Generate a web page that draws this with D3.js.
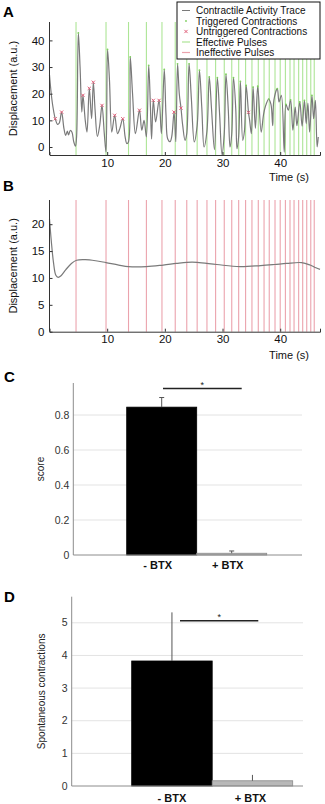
<!DOCTYPE html>
<html>
<head>
<meta charset="utf-8">
<script src="https://cdn.jsdelivr.net/npm/d3@7"></script>
<style>
  body { margin: 0; background: #fff; }
  svg { display: block; font-family: "Liberation Sans", Arial, sans-serif; }
</style>
</head>
<body>
<svg id="chart" width="325" height="804"></svg>
<script>
/**
 * Data.
 */
// Stimulation pulse times (s), shared by panels A and B
const pulseTimes = [4.6, 9.8, 13.7, 16.8, 19.5, 21.8, 23.8, 25.6, 27.3, 28.8, 30.3, 31.6, 32.8,
    34.0, 35.1, 36.2, 37.2, 38.1, 39.1, 40.0, 40.9, 41.7, 42.4, 43.2, 43.9, 44.6, 45.3, 45.9];

// Panel A contractile trace [time, displacement]
const traceA = [[0, 27], [0.3, 20], [0.6, 15], [1.0, 10.6], [1.4, 8.5], [1.7, 9], [2.1, 13.1], [2.5, 7],
    [2.8, 4.4], [3.1, 6], [3.3, 4.5], [3.6, 6.2], [3.9, 5.5], [4.2, 2], [4.5, 0.3], [4.7, 4], [5.0, 42.8],
    [5.3, 30], [5.6, 13.1], [5.8, 19.4], [6.2, 10], [6.5, 5.6], [6.9, 22], [7.3, 10.6], [7.6, 24.3],
    [7.9, 14], [8.3, 4], [8.7, 8], [9.1, 15.6], [9.5, 5], [9.8, -1.9], [10.06, 36.6], [10.4, 25],
    [10.8, 5.6], [11.3, 11.9], [11.8, 5], [12.2, 7], [12.7, 10.6], [13.1, 4], [13.4, 1.3], [13.7, 2],
    [14.0, 33.8], [14.4, 20], [14.9, 5], [15.6, 13.8], [16.0, 6.3], [16.4, 10], [16.8, 3.8], [17.2, 30.6],
    [17.5, 15], [17.7, 3], [18.0, 17.5], [18.4, 9.4], [19.0, 17.5], [19.4, 5], [19.9, 29.1], [20.2, 12],
    [20.5, 3], [20.9, 2], [21.2, 4], [21.6, 13.1], [21.9, 2], [22.2, 31.2], [22.5, 20], [22.8, 14.6],
    [23.1, 8], [23.5, 2.5], [23.8, 5], [24.2, 31.2], [24.6, 18], [25.1, 1.9], [25.6, 8], [26.0, 28.8],
    [26.4, 15], [26.8, 0], [27.3, 6], [27.7, 26.3], [28.1, 14], [28.6, -1], [29.1, 26], [29.5, 12],
    [29.9, -2.8], [30.3, 5], [30.6, 27.3], [31.0, 14], [31.3, 0], [31.6, 5], [31.9, 26], [32.3, 14],
    [32.5, -0.6], [32.8, 4], [33.1, 24.6], [33.5, 2.5], [33.8, 6], [34.1, 23.1], [34.5, 13], [34.7, 10],
    [35.0, 5], [35.3, 22.5], [35.7, 7], [36.1, 22.8], [36.7, 5.6], [37.1, 12], [37.4, 15], [38.0, 18],
    [38.4, 16], [38.7, 8], [38.9, 17.5], [39.5, 21.9], [39.8, 16.9], [40.2, 19.4], [40.7, -1.9], [41.0, 16],
    [41.4, 13.8], [41.8, 17.7], [42.2, 6.3], [42.6, 15], [42.9, 8], [43.4, 16.9], [43.8, 7.8], [44.2, 17.5],
    [44.5, 8.8], [44.8, 16.5], [45.1, 5.6], [45.5, 19.4], [45.8, 10.6], [46.1, 17.5], [46.4, 0], [46.6, 3.75]];

// Peaks following an effective pulse
const triggeredA = [[5.0, 42.8], [10.06, 36.6], [14.0, 33.8], [17.2, 30.6], [19.9, 29.1], [22.2, 31.2],
    [24.2, 31.2], [26.0, 28.8], [27.7, 26.3], [29.1, 26], [30.6, 27.3], [31.9, 26], [33.1, 24.6],
    [34.1, 23.1], [35.3, 22.5], [36.1, 22.8], [38.0, 18], [39.5, 21.9], [41.0, 16], [41.8, 17.7],
    [43.4, 16.9], [44.2, 17.5], [45.5, 19.4]];

// Spontaneous peaks
const untriggeredA = [[1.0, 10.6], [2.1, 13.1], [5.8, 19.4], [6.9, 22], [7.6, 24.3], [9.1, 15.6],
    [11.3, 11.9], [12.7, 10.6], [15.6, 13.8], [18.0, 17.5], [19.0, 17.5], [21.6, 13.1], [22.8, 14.6],
    [34.5, 13]];

// Panel B trace (after BTX)
const traceB = [[0, 21], [0.3, 17], [0.7, 12.8], [1.1, 10.5], [1.5, 10.1], [2.0, 10.4], [2.8, 11.5],
    [3.8, 12.7], [4.7, 13.3], [6.2, 13.4], [8, 13.2], [9.8, 12.85], [12, 12.4], [13.7, 12.1], [16.8, 12.1],
    [19.7, 12.4], [22, 12.7], [23.8, 12.9], [25.6, 12.9], [29, 12.5], [33, 12.1], [36.6, 12.3], [39, 12.5],
    [41.1, 12.7], [43.7, 12.85], [45.2, 12.4], [46.2, 11.9], [46.9, 11.6]];

const legendLabels = ['Contractile Activity Trace', 'Triggered Contractions', 'Untriggered Contractions',
    'Effective Pulses', 'Ineffective Pulses'];

// Panel C: score
const groups = ['- BTX', '+ BTX'];
const scoreMean = [0.845, 0.01];
const scoreErr = [0.055, 0.013];

// Panel D: spontaneous contractions
const spontMean = [3.83, 0.16];
const spontErr = [1.49, 0.18];

/**
 * Visual configs.
 */
const svg = d3.select('#chart');
const traceColor = '#7a7a7a',
    greenPulse = '#ade596',
    redPulse = '#eba3ad',
    redMark = '#e0607a',
    greenMark = '#7fcf5f';

function panelLabel(text, x, y) {
    svg.append('text').attr('x', x).attr('y', y)
        .attr('font-size', 15).attr('font-weight', 'bold').text(text);
}

/**
 * Time-series panel (A and B).
 */
function tracePanel(opts) {
    const x = d3.scaleLinear().domain([0, 46.9]).range([49.5, 320]);
    const y = d3.scaleLinear().domain(opts.yDomain).range([opts.bottom, opts.top]);
    const g = svg.append('g');

    // Pulses
    g.selectAll('.pulse').data(pulseTimes).enter().append('line')
        .attr('x1', d => x(d)).attr('x2', d => x(d))
        .attr('y1', opts.top).attr('y2', opts.bottom)
        .attr('stroke', opts.pulseColor).attr('stroke-width', 1.1);

    // Trace
    const line = d3.line().x(d => x(d[0])).y(d => y(d[1])).curve(d3.curveCatmullRom.alpha(0.5));
    g.append('path').datum(opts.trace)
        .attr('d', line).attr('fill', 'none')
        .attr('stroke', traceColor).attr('stroke-width', 1.2);

    // Markers
    if (opts.triggered) {
        g.selectAll('.trig').data(opts.triggered).enter().append('circle')
            .attr('cx', d => x(d[0])).attr('cy', d => y(d[1])).attr('r', 0.9)
            .attr('fill', greenMark);
    }
    if (opts.untriggered) {
        g.selectAll('.untrig').data(opts.untriggered).enter().append('path')
            .attr('transform', d => 'translate(' + x(d[0]) + ',' + y(d[1]) + ')')
            .attr('d', 'M-1.6,-1.6L1.6,1.6M-1.6,1.6L1.6,-1.6')
            .attr('stroke', redMark).attr('stroke-width', 1);
    }

    // Axes
    const yAxis = d3.axisLeft(y).tickValues(opts.yTicks).tickSize(-3).tickPadding(5);
    const gy = g.append('g').attr('transform', 'translate(' + x.range()[0] + ',0)').call(yAxis);
    gy.select('.domain').attr('d', 'M0,' + opts.top + 'V' + opts.bottom);
    const xAxis = d3.axisBottom(x).tickValues([10, 20, 30, 40]).tickSize(-3).tickPadding(opts.xPad);
    const gx = g.append('g').attr('transform', 'translate(0,' + opts.bottom + ')').call(xAxis);
    [gx, gy].forEach(a => {
        a.select('.domain').attr('stroke', '#333');
        a.selectAll('.tick line').attr('stroke', '#333');
        a.selectAll('text').attr('font-size', 11.5).attr('fill', '#111')
            .attr('font-family', '"Liberation Sans", Arial, sans-serif');
    });

    g.append('text')
        .attr('transform', 'translate(' + 17 + ',' + (opts.top + opts.bottom) / 2 + ') rotate(-90)')
        .attr('text-anchor', 'middle').attr('font-size', 11).attr('fill', '#111')
        .text('Displacement (a.u.)');
    g.append('text').attr('x', 309).attr('y', opts.timeY)
        .attr('text-anchor', 'end').attr('font-size', 11).attr('fill', '#111')
        .text('Time (s)');
}

function legendA() {
    const g = svg.append('g').attr('transform', 'translate(177,2)');
    g.append('rect').attr('width', 143).attr('height', 57)
        .attr('fill', '#fff').attr('stroke', '#111').attr('stroke-width', 1);
    const rows = g.selectAll('.row').data(legendLabels).enter().append('g')
        .attr('transform', (d, i) => 'translate(0,' + (8.5 + i * 10.5) + ')');
    rows.append('text').attr('x', 19).attr('y', 3.5)
        .attr('font-size', 10).attr('fill', '#111').text(d => d);
    rows.each(function(d, i) {
        const r = d3.select(this);
        if (i === 0) r.append('line').attr('x1', 5).attr('x2', 13).attr('stroke', traceColor);
        if (i === 1) r.append('circle').attr('cx', 9).attr('r', 0.9).attr('fill', greenMark);
        if (i === 2) r.append('path').attr('d', 'M7.4,-1.6L10.6,1.6M7.4,1.6L10.6,-1.6')
            .attr('stroke', redMark).attr('stroke-width', 1);
        if (i === 3) r.append('line').attr('x1', 5).attr('x2', 13).attr('stroke', greenPulse).attr('stroke-width', 1.2);
        if (i === 4) r.append('line').attr('x1', 5).attr('x2', 13).attr('stroke', redPulse).attr('stroke-width', 1.2);
    });
}

/**
 * Bar panel (C and D).
 */
function barPanel(opts) {
    const x = d3.scaleBand().domain(groups).range(opts.barRange).padding(0);
    const y = d3.scaleLinear().domain(opts.yDomain).range([opts.bottom, opts.top]);
    const g = svg.append('g');

    // Grid
    g.selectAll('.grid').data(opts.yTicks.filter(t => t > 0)).enter().append('line')
        .attr('x1', opts.left).attr('x2', opts.right)
        .attr('y1', d => y(d)).attr('y2', d => y(d))
        .attr('stroke', '#e3e3e3').attr('stroke-width', 1);

    // Tick labels
    g.selectAll('.tl').data(opts.yTicks).enter().append('text')
        .attr('x', opts.left - 4).attr('y', d => y(d) + 3.5)
        .attr('text-anchor', 'end').attr('font-size', 10.5).attr('fill', '#333')
        .text(opts.fmt);

    // Bars
    const data = groups.map((k, i) => ({ key: k, mean: opts.mean[i], err: opts.err[i] }));
    g.selectAll('.bar').data(data).enter().append('rect')
        .attr('x', d => x(d.key)).attr('width', x.bandwidth())
        .attr('y', d => y(d.mean)).attr('height', d => y(0) - y(d.mean))
        .attr('fill', (d, i) => i === 0 ? '#000' : '#b8b8b8')
        .attr('stroke', (d, i) => i === 0 ? '#000' : '#8a8a8a').attr('stroke-width', 0.8);

    // Error bars
    g.selectAll('.err').data(data).enter().append('path')
        .attr('d', d => {
            const cx = x(d.key) + x.bandwidth() / 2, y0 = y(d.mean), y1 = y(d.mean + d.err);
            return 'M' + cx + ',' + y0 + 'V' + y1 + 'M' + (cx - opts.cap) + ',' + y1 + 'H' + (cx + opts.cap);
        })
        .attr('fill', 'none').attr('stroke', '#555').attr('stroke-width', 1);

    // Axes lines
    g.append('path').attr('d', 'M' + opts.left + ',' + opts.top + 'V' + y(0) + 'H' + opts.right)
        .attr('fill', 'none').attr('stroke', '#8c8c8c').attr('stroke-width', 1);

    // Category labels
    g.selectAll('.cat').data(groups).enter().append('text')
        .attr('x', (d, i) => x(d) + x.bandwidth() / 2 + opts.labelShift[i]).attr('y', opts.catY)
        .attr('text-anchor', 'middle').attr('font-size', 11).attr('font-weight', 'bold')
        .attr('fill', '#111').text(d => d);

    // Significance
    g.append('line').attr('x1', opts.sig[0]).attr('x2', opts.sig[1])
        .attr('y1', opts.sigY).attr('y2', opts.sigY).attr('stroke', '#222').attr('stroke-width', 1.4);
    g.append('text').attr('x', (opts.sig[0] + opts.sig[1]) / 2).attr('y', opts.sigY - 1)
        .attr('text-anchor', 'middle').attr('font-size', 9).attr('fill', '#222').text('*');

    g.append('text')
        .attr('transform', 'translate(' + opts.labelX + ',' + (opts.top + opts.bottom) / 2 + ') rotate(-90)')
        .attr('text-anchor', 'middle').attr('font-size', 10).attr('fill', '#222')
        .text(opts.yLabel);
}

/**
 * Draw.
 */
panelLabel('A', 3, 17);
tracePanel({
    trace: traceA, triggered: triggeredA, untriggered: untriggeredA,
    yDomain: [-3, 46.9], yTicks: [0, 10, 20, 30, 40], top: 22, bottom: 155,
    pulseColor: greenPulse, xPad: 4, timeY: 181
});
legendA();

panelLabel('B', 3, 191);
tracePanel({
    trace: traceB,
    yDomain: [0, 24.5], yTicks: [0, 5, 10, 15, 20], top: 200, bottom: 331.7,
    pulseColor: redPulse, xPad: 3, timeY: 359
});

panelLabel('C', 4, 382);
barPanel({
    mean: scoreMean, err: scoreErr, yDomain: [0, 0.983], yTicks: [0, 0.2, 0.4, 0.6, 0.8],
    fmt: d => d === 0 ? '0' : d3.format('.1f')(d),
    top: 383, bottom: 555, left: 73.3, right: 302, barRange: [126.7, 266.7],
    cap: 2.5, catY: 569, labelShift: [-4, -4], sig: [163, 241.7], sigY: 388.5,
    labelX: 44, yLabel: 'score'
});

panelLabel('D', 4, 602);
barPanel({
    mean: spontMean, err: spontErr, yDomain: [0, 5.8], yTicks: [0, 1, 2, 3, 4, 5],
    fmt: d => d,
    top: 596.7, bottom: 786, left: 71.7, right: 303, barRange: [131.7, 292.7],
    cap: 0, catY: 802, labelShift: [0, -2], sig: [180, 258.3], sigY: 620.7,
    labelX: 45, yLabel: 'Spontaneous contractions'
});
</script>
</body>
</html>
